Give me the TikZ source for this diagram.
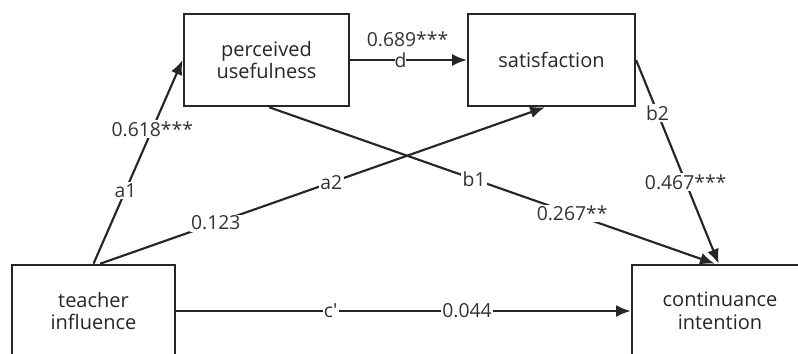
\documentclass[tikz,border=0pt]{standalone}
\usepackage{fontspec}
\setmainfont{Open Sans}
\usetikzlibrary{arrows.meta}

\begin{document}
\begin{tikzpicture}[
		x=0.75pt, y=-0.75pt,
		var/.style={draw=black!85, line width=1.9pt, minimum height=69pt, align=center, font=\fontsize{15}{17}\selectfont, text=black!85},
		path/.style={draw=black!85, line width=1.6pt, -{Latex[length=11pt, width=9pt]}},
		coef/.style={fill=white, inner sep=1pt, font=\fontsize{14.5}{16}\selectfont, text=black!80}
		]
		
		\useasboundingbox (0,0) rectangle (798,353);
		
		% Variables
		\node[var, minimum width=124pt] (pu) at (266.5, 60) {perceived\\usefulness};
		\node[var, minimum width=125pt] (sat) at (551.5, 60) {satisfaction};
		\node[var, minimum width=122pt] (ti) at (93.5, 311) {teacher\\influence};
		\node[var, minimum width=132pt] (ci) at (720, 311) {continuance\\intention};
		
		% Paths with coefficients
		\draw[path] (ti.north) -- (pu.west)
		node[coef, pos=0.36] {a1}
		node[coef, pos=0.66] {0.618***};
		
		\draw[path] ([xshift=5pt]ti.north) -- ([xshift=-5pt]sat.south)
		node[coef, pos=0.26] {0.123}
		node[coef, pos=0.52] {a2};
		
		\draw[path] (pu.east) -- (sat.west)
		node[coef, pos=0.43, inner sep=0pt] {d}
		node[pos=0.49, above=8pt, coef, fill=none] {0.689***};
		
		\draw[path] ([xshift=2pt]pu.south) -- ([xshift=-4pt]ci.north)
		node[coef, pos=0.46] {b1}
		node[coef, pos=0.68] {0.267**};
		
		\draw[path] (sat.east) -- ([xshift=-1pt]ci.north)
		node[coef, pos=0.26] {b2}
		node[coef, pos=0.6] {0.467***};
		
		\draw[path] (ti.east) -- (ci.west)
		node[coef, pos=0.34] {c\textquotesingle}
		node[coef, pos=0.64] {0.044};
		
	\end{tikzpicture}
\end{document}
